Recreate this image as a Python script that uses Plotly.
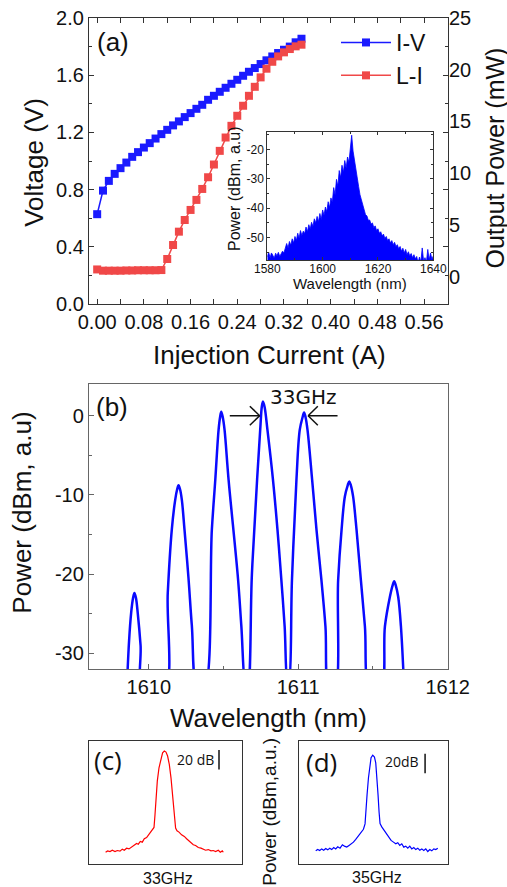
import plotly.graph_objects as go

# ---------------- Panel (a): I-V and L-I ----------------
current_a = [0.00, 0.01, 0.02, 0.03, 0.04, 0.05, 0.06, 0.07, 0.08, 0.09, 0.10, 0.11,
             0.12, 0.13, 0.14, 0.15, 0.16, 0.17, 0.18, 0.19, 0.20, 0.21, 0.22, 0.23,
             0.24, 0.25, 0.26, 0.27, 0.28, 0.29, 0.30, 0.31, 0.32, 0.33, 0.34, 0.35]
voltage_v = [0.628, 0.793, 0.861, 0.910, 0.950, 0.989, 1.029, 1.062, 1.094, 1.125, 1.157, 1.188,
             1.218, 1.249, 1.277, 1.307, 1.335, 1.365, 1.393, 1.428, 1.456, 1.484, 1.512, 1.540,
             1.568, 1.596, 1.624, 1.650, 1.678, 1.704, 1.731, 1.755, 1.778, 1.800, 1.830, 1.855]
power_mw = [0.70, 0.58, 0.58, 0.58, 0.58, 0.60, 0.60, 0.62, 0.62, 0.62, 0.62, 0.64,
            1.71, 3.06, 4.35, 5.48, 6.45, 7.42, 8.48, 9.61, 10.84, 12.16, 13.45, 14.58,
            15.55, 16.52, 17.48, 18.35, 19.26, 20.10, 20.77, 21.29, 21.68, 22.00, 22.26, 22.42]

# Inset: optical spectrum (dBm), sampled every 0.5 nm from 1580 nm
inset_wl_start = 1580.0
inset_wl_step = 0.5
inset_power = [
    -56.5, -55.0, -56.8, -55.2, -56.0, -57.0, -55.3, -56.2, -55.0, -56.4,
    -55.5, -54.6, -55.2, -53.8, -52.0, -53.5, -51.3, -52.6, -50.4, -51.8,
    -49.6, -51.0, -48.5, -50.2, -47.6, -49.3, -47.8, -48.6, -46.4, -48.0,
    -45.6, -47.1, -44.8, -46.2, -43.6, -45.0, -42.8, -44.6, -41.8, -43.8,
    -40.6, -42.4, -39.6, -41.2, -37.8, -39.8, -36.5, -38.0, -33.0, -35.5,
    -30.2, -32.5, -27.2, -29.6, -25.4, -27.8, -23.8, -26.4, -22.6, -24.5,
    -19.8, -15.2, -20.6, -24.0, -26.8, -30.5, -32.6, -35.4, -37.2, -39.6,
    -40.4, -42.2, -42.6, -44.1, -44.0, -45.4, -45.0, -46.6, -46.0, -47.6,
    -47.0, -48.5, -48.0, -49.4, -48.8, -50.3, -49.6, -51.0, -50.4, -51.8,
    -51.0, -52.4, -51.6, -53.0, -52.4, -53.8, -53.0, -54.6, -53.6, -55.2,
    -54.0, -55.8, -54.8, -56.2, -55.4, -56.8, -55.8, -57.2, -56.4, -58.5,
    -56.6, -58.2, -53.5, -58.0, -56.8, -58.4, -54.0, -57.6, -55.2, -57.4,
    -56.2]
inset_wl = [inset_wl_start + i * inset_wl_step for i in range(len(inset_power))]
inset_floor = -70.0

# ---------------- Panel (b): comb spectrum ----------------
wl_b = [1609.852, 1609.868, 1609.882, 1609.895, 1609.904, 1609.914, 1609.926, 1609.945, 1609.962,
        1610.100, 1610.127, 1610.154, 1610.177, 1610.190, 1610.199, 1610.209, 1610.221, 1610.239, 1610.266, 1610.288, 1610.328,
        1610.368, 1610.422, 1610.445, 1610.467, 1610.477, 1610.485, 1610.495, 1610.507, 1610.534, 1610.597, 1610.619, 1610.652,
        1610.660, 1610.690, 1610.725, 1610.748, 1610.756, 1610.764, 1610.775, 1610.794, 1610.831, 1610.861, 1610.887, 1610.909, 1610.930,
        1610.936, 1610.958, 1610.988, 1611.010, 1611.029, 1611.039, 1611.049, 1611.062, 1611.093, 1611.122, 1611.155, 1611.182, 1611.208,
        1611.242, 1611.267, 1611.290, 1611.312, 1611.331, 1611.341, 1611.352, 1611.367, 1611.390, 1611.419, 1611.446, 1611.482,
        1611.550, 1611.580, 1611.613, 1611.632, 1611.642, 1611.652, 1611.669, 1611.687, 1611.710]
p_b = [-35, -28.5, -24.9, -23.0, -22.4, -23.0, -24.9, -29.0, -35,
       -35, -22.4, -14.4, -10.6, -9.3, -8.8, -9.3, -10.6, -14.4, -20.6, -26.5, -35,
       -35, -14.4, -8.1, -1.8, -0.2, 0.5, -0.2, -1.8, -8.1, -20.6, -26.5, -35,
       -35, -20.0, -8.0, -1.0, 1.1, 1.8, 1.1, -1.8, -8.1, -14.4, -20.75, -26.6, -34,
       -34, -20.75, -8.1, -1.8, -0.2, 0.4, -0.2, -1.8, -8.1, -14.4, -20.75, -26.6, -35,
       -35, -20.75, -14.4, -10.2, -8.8, -8.3, -8.8, -10.2, -14.4, -20.75, -26.6, -35,
       -35, -26.6, -22.9, -21.4, -20.9, -21.4, -22.9, -26.6, -35]

# ---------------- Panel (c): RF spectrum 33 GHz (relative dB) ----------------
f_c = [-58.7, -56.7, -54.3, -52.0, -49.3, -47.0, -44.3, -42.0, -40.0, -37.7, -35.3, -32.7, -30.0,
       -27.7, -26.0, -24.0, -22.0, -20.0, -17.7, -15.3, -13.3, -11.3, -10.3, -9.3, -8.3, -7.0,
       -5.3, -3.3, -1.7, 0.0, 1.7, 3.3, 5.0, 6.7, 8.3, 10.0, 11.3, 12.7, 14.7, 17.3, 20.0, 22.3,
       24.7, 26.7, 29.0, 31.3, 34.0, 36.7, 39.0, 41.3, 44.0, 46.7, 49.0, 51.3, 54.0, 56.0, 58.0, 59.0]
p_c = [-104.3, -102.9, -103.6, -102.2, -103.6, -102.5, -103.2, -101.1, -102.2, -100.1, -100.8, -98.7, -96.6,
       -95.3, -96.0, -93.2, -93.9, -90.4, -89.1, -85.6, -83.5, -80.4, -78.7, -65.6, -48.3, -31.0,
       -17.2, -6.9, -1.7, 0.0, -1.0, -5.1, -13.8, -27.6, -48.3, -69.0, -79.4, -82.1, -83.5, -86.3, -88.0, -90.4,
       -92.5, -93.9, -96.6, -97.3, -99.4, -100.1, -100.8, -102.2, -101.5, -102.9, -102.5, -103.6, -102.2, -104.3, -102.9, -104.3]

# ---------------- Panel (d): RF spectrum 35 GHz (relative dB) ----------------
f_d = [-57.0, -55.0, -53.0, -51.0, -49.0, -47.0, -45.0, -43.0, -41.0, -39.0, -37.0, -35.0, -32.7, -30.3,
       -28.3, -26.0, -23.7, -21.7, -19.3, -17.0, -15.0, -12.7, -11.0, -9.3, -7.7, -7.0, -5.7, -4.3, -3.0,
       -1.7, 0.0, 1.7, 3.0, 4.3, 5.3, 6.3, 7.3, 9.0, 10.7, 12.3, 14.3, 16.3, 18.3, 20.7, 23.0, 25.0, 27.0,
       29.0, 31.0, 33.0, 35.0, 37.0, 39.0, 41.0, 43.0, 45.0, 47.0, 49.0, 51.0, 53.0, 55.0, 57.0, 59.0, 61.0, 63.0, 65.0]
p_d = [-98.0, -96.7, -97.7, -96.0, -97.3, -95.6, -97.0, -95.3, -96.7, -94.6, -96.0, -93.9, -95.3, -91.8,
       -93.2, -94.2, -92.5, -91.1, -89.1, -86.3, -83.9, -80.4, -78.0, -75.9, -70.4, -58.0, -40.7, -23.4, -9.6,
       -2.7, 0.0, -2.0, -7.9, -23.4, -40.7, -58.0, -70.1, -73.5, -75.9, -78.0, -81.5, -84.9, -87.3, -89.1, -90.8, -89.7, -92.5,
       -90.8, -94.2, -93.2, -95.3, -93.2, -96.0, -94.6, -96.7, -95.3, -97.3, -96.0, -97.7, -96.0, -98.7, -96.7, -98.0, -96.0, -96.7, -95.3]

# ---------------- tick labels ----------------
x_a_ticks = [0.00, 0.08, 0.16, 0.24, 0.32, 0.40, 0.48, 0.56]
y_a_ticks = [0.0, 0.4, 0.8, 1.2, 1.6, 2.0]
y2_a_ticks = [0, 5, 10, 15, 20, 25]
inset_x_ticks = [1580, 1600, 1620, 1640]
inset_y_ticks = [-20, -30, -40, -50]
inset_y_text = ["-20", "-30", "-40", "-50"]
x_b_ticks = [1610, 1611, 1612]
y_b_ticks = [0, -10, -20, -30]
y_b_text = ["0", "-10", "-20", "-30"]

BLUE = "#1a1aff"
RED = "#f04848"
AX = "#333333"
FONT = "Liberation Sans, Arial, sans-serif"
W, H = 507, 887


def px(x):
    return x / W


def py(y):
    return 1 - y / H


fig = go.Figure()
fig.add_trace(go.Scatter(x=current_a, y=voltage_v, name="I-V", mode="lines+markers",
                         line=dict(color=BLUE, width=1.5),
                         marker=dict(symbol="square", size=8, color=BLUE),
                         xaxis="x", yaxis="y"))
fig.add_trace(go.Scatter(x=current_a, y=power_mw, name="L-I", mode="lines+markers",
                         line=dict(color=RED, width=1.5),
                         marker=dict(symbol="square", size=8, color=RED),
                         xaxis="x", yaxis="y2"))
fig.add_trace(go.Scatter(x=inset_wl, y=[inset_floor] * len(inset_wl), mode="lines",
                         line=dict(width=0, color="#0000ff"), showlegend=False,
                         xaxis="x3", yaxis="y3", hoverinfo="skip"))
fig.add_trace(go.Scatter(x=inset_wl, y=inset_power, mode="lines", fill="tonexty",
                         fillcolor="#0000ff", line=dict(width=0.8, color="#0000ff"),
                         showlegend=False, xaxis="x3", yaxis="y3"))
fig.add_trace(go.Scatter(x=wl_b, y=p_b, mode="lines",
                         line=dict(color="#0a0aff", width=2.5, shape="spline", smoothing=1.0),
                         showlegend=False, xaxis="x4", yaxis="y4"))
fig.add_trace(go.Scatter(x=f_c, y=p_c, mode="lines", line=dict(color="#ff0000", width=1.2),
                         showlegend=False, xaxis="x5", yaxis="y5"))
fig.add_trace(go.Scatter(x=f_d, y=p_d, mode="lines", line=dict(color="#0000ff", width=1.2),
                         showlegend=False, xaxis="x6", yaxis="y6"))

common = dict(showline=True, linecolor=AX, linewidth=1.3, showgrid=False, zeroline=False,
              automargin=False, ticks="inside", tickcolor=AX,
              tickfont=dict(family=FONT, size=20, color="#111"))
small = {**common, "tickfont": dict(family=FONT, size=12, color="#111"), "linewidth": 1}
gray = {**common, "linecolor": "#666", "tickcolor": "#666"}
box = dict(showline=True, mirror=True, linecolor=AX, linewidth=1.3, showticklabels=False,
           ticks="", showgrid=False, zeroline=False, automargin=False)

layout = dict(
    template="none",
    width=W, height=H, margin=dict(l=0, r=0, t=0, b=0, autoexpand=False),
    paper_bgcolor="white", plot_bgcolor="rgba(0,0,0,0)",
    font=dict(family=FONT, color="#111"),
    showlegend=True,
    legend=dict(x=px(336), y=py(21), xanchor="left", yanchor="top", bgcolor="rgba(0,0,0,0)",
                traceorder="normal", borderwidth=0,
                font=dict(family=FONT, size=23, color="#111"), itemwidth=50, tracegroupgap=0),
    xaxis=dict(domain=[px(89), px(448)], anchor="y", range=[-0.014, 0.601],
               tickvals=x_a_ticks, tickformat=".2f", ticklen=5, mirror="allticks",
               minor=dict(dtick=0.04, tick0=0, ticks="inside", ticklen=3, tickcolor=AX), **common),
    yaxis=dict(domain=[py(304), py(18)], anchor="x", range=[0, 2.0],
               tickvals=y_a_ticks, tickformat=".1f", ticklen=5, mirror="allticks",
               minor=dict(dtick=0.2, tick0=0, ticks="inside", ticklen=3, tickcolor=AX), **common),
    yaxis2=dict(overlaying="y", side="right", anchor="x", range=[-2.64, 25], tickvals=y2_a_ticks,
                showline=False, showgrid=False, zeroline=False, ticks="", automargin=False,
                tickfont=dict(family=FONT, size=20, color="#111")),
    xaxis3=dict(domain=[px(267.3), px(433.3)], anchor="y3", range=[1580, 1640], tickvals=inset_x_ticks,
                ticklen=3, mirror="allticks", ticklabelstandoff=-2,
                minor=dict(dtick=10, tick0=1580, ticks="inside", ticklen=2, tickcolor=AX), **small),
    yaxis3=dict(domain=[py(260), py(131.7)], anchor="x3", range=[-57.6, -14], tickvals=inset_y_ticks,
                ticktext=inset_y_text, ticklen=3, mirror="allticks",
                minor=dict(dtick=5, tick0=0, ticks="inside", ticklen=2, tickcolor=AX), **small),
    xaxis4=dict(domain=[px(89), px(447.7)], anchor="y4", range=[1609.6, 1612], tickvals=x_b_ticks,
                ticklen=5, mirror=True,
                minor=dict(dtick=0.5, tick0=1610, ticks="inside", ticklen=3, tickcolor="#666"), **gray),
    yaxis4=dict(domain=[py(669), py(384)], anchor="x4", range=[-32, 4], tickvals=y_b_ticks,
                ticktext=y_b_text, ticklen=5, mirror=True,
                minor=dict(dtick=5, tick0=0, ticks="inside", ticklen=3, tickcolor="#666"), **gray),
    xaxis5=dict(domain=[px(89), px(242)], anchor="y5", range=[-75.3, 77.7], **box),
    yaxis5=dict(domain=[py(864), py(741)], anchor="x5", range=[-116.4, 10.4], **box),
    xaxis6=dict(domain=[px(299), px(447.5)], anchor="y6", range=[-73.7, 74.7], **box),
    yaxis6=dict(domain=[py(864), py(741)], anchor="x6", range=[-111.5, 14.5], **box),
)
fig.update_layout(**layout)


def note(text, x, y, size, angle=0, family=FONT):
    fig.add_annotation(text=text, x=px(x), y=py(y), xref="paper", yref="paper", showarrow=False,
                       xanchor="center", yanchor="middle", textangle=angle,
                       font=dict(family=family, size=size, color="#111"))


note("Voltage (V)", 33.3, 162.5, 26, -90)
note("Output Power (mW)", 494.5, 158, 25, -90)
note("Injection Current (A)", 269, 355, 26)
note("(a)", 112.7, 41.7, 26)
note("Power (dBm, a.u)", 235, 189, 16, -90)
note("Wavelength (nm)", 350, 284, 15)
note("(b)", 111.7, 406.7, 26)
note("33GHz", 303.3, 396.7, 20, 0, "DejaVu Sans")
note("Power (dBm, a.u)", 21.7, 513, 26, -90)
note("Wavelength (nm)", 268.3, 718, 26)
note("(c)", 108, 760, 26, 0, "Open Sans")
note("20 dB", 195, 759, 14, 0, "Open Sans")
note("33GHz", 167.7, 878, 16)
note("(d)", 321, 761.7, 26, 0, "Open Sans")
note("20dB", 401.7, 761, 14, 0, "Open Sans")
note("35GHz", 376.7, 877.5, 16)
note("Power (dBm,a.u.)", 270, 811.7, 19, -90)

# arrows in (b)
arr = dict(color="#111", width=1.5)
for (x0, x1, xb) in [(1610.542, 1610.742, 1610.676), (1611.263, 1611.066, 1611.131)]:
    fig.add_shape(type="line", xref="x4", yref="y4", x0=x0, x1=x1, y0=0, y1=0, line=arr)
    fig.add_shape(type="line", xref="x4", yref="y4", x0=xb, x1=x1, y0=1.2, y1=0, line=arr)
    fig.add_shape(type="line", xref="x4", yref="y4", x0=xb, x1=x1, y0=-1.2, y1=0, line=arr)

# 20 dB scale bars
fig.add_shape(type="line", xref="x5", yref="y5", x0=54.7, x1=54.7, y0=1, y1=-19,
              line=dict(color="#111", width=1.5))
fig.add_shape(type="line", xref="x6", yref="y6", x0=52.3, x1=52.3, y0=1.5, y1=-18.5,
              line=dict(color="#111", width=1.5))

fig.write_html("out.html", config={"displayModeBar": False},
               post_script="document.body.style.margin='0';document.body.style.overflow='hidden';")
